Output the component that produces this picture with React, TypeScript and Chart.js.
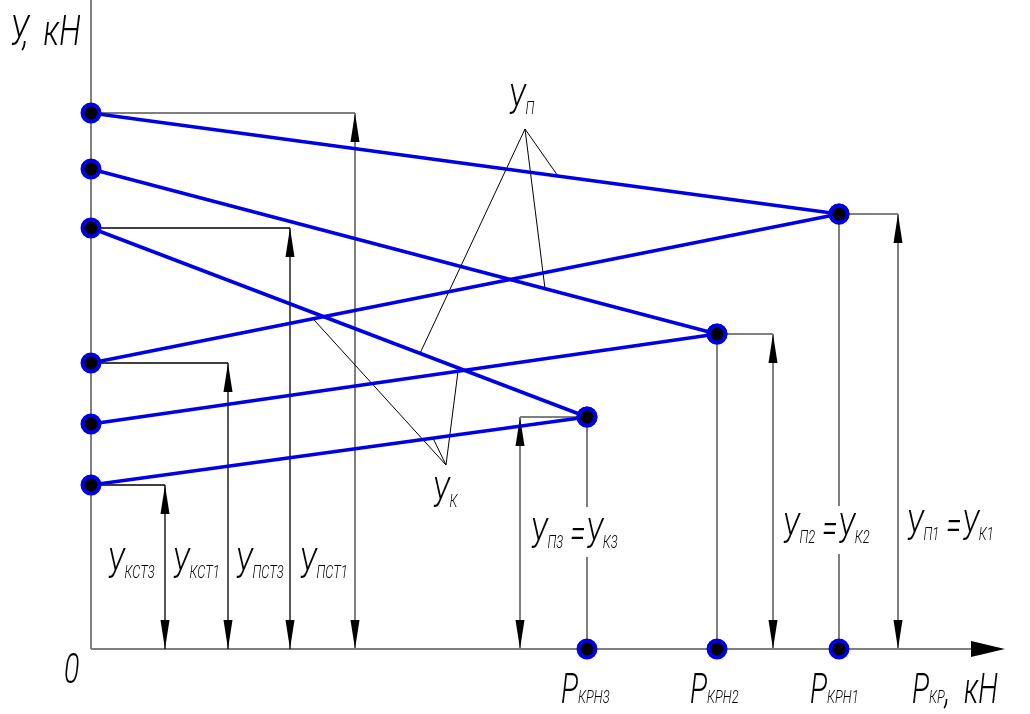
import React, { useEffect, useRef } from 'react';
import { Chart, registerables } from 'chart.js';

Chart.register(...registerables);

// ---- data (arbitrary units: kN) ----
const yPst = [53.6, 48.0, 42.1];   // Уп at P = 0 (Упст1, Упст2, Упст3)
const yKst = [28.6, 22.5, 16.4];   // Ук at P = 0 (Укст1, Укст2, Укст3)
const pKrn = [74.8, 62.6, 49.6];   // Pкрн1..3
const yCrit = [43.5, 31.5, 23.2];  // Уп = Ук at Pкрн1..3
const X_MAX = 91.4;
const Y_MAX = 64.9;

// dimension line positions (x in kN units) and the level they measure
const dimX = [7.4, 13.7, 19.9, 26.4, 42.9, 68.2, 80.7];
const dimY = [yKst[2], yKst[0], yPst[2], yPst[0], yCrit[2], yCrit[1], yCrit[0]];
const dimFrom = [0, 0, 0, 0, pKrn[2], pKrn[1], pKrn[0]];

// leader lines: apex and x-positions on the lines they point to
const upApex = { x: 43.4, y: 52.0 };
const upTargets = [46.7, 45.4, 32.9];
const ukApex = { x: 35.5, y: 18.4 };
const ukTargets = [22.2, 36.7, 34.2];

const BLUE = '#0000e6';
const GRAY = '#7f7f7f';
const FONT = "Roboto, 'DejaVu Sans', sans-serif";

const lineY = (start: number[], i: number, x: number) =>
  start[i] + ((yCrit[i] - start[i]) * x) / pKrn[i];

type Part = [string, boolean]; // text, isSub

function drawText(ctx: CanvasRenderingContext2D, parts: Part[], x: number, base: number, main = 42, sub = 19, sx = 0.68) {
  ctx.save();
  ctx.translate(x, base);
  ctx.scale(sx, 1);
  ctx.fillStyle = '#000';
  ctx.textBaseline = 'alphabetic';
  let cx = 0;
  for (const [t, isSub] of parts) {
    ctx.font = `italic 300 ${isSub ? sub : main}px ${FONT}`;
    ctx.fillText(t, cx, 0);
    cx += ctx.measureText(t).width;
  }
  ctx.restore();
}

function arrowHead(ctx: CanvasRenderingContext2D, x: number, y: number, dir: number) {
  // dir = -1 pointing up, +1 pointing down
  const len = 29, hw = 4.5;
  ctx.beginPath();
  ctx.moveTo(x, y);
  ctx.lineTo(x - hw, y - dir * len);
  ctx.lineTo(x + hw, y - dir * len);
  ctx.closePath();
  ctx.fill();
}

const drawingPlugin = {
  id: 'drawing',
  beforeDatasetsDraw(chart: any) {
    const ctx: CanvasRenderingContext2D = chart.ctx;
    const xs = chart.scales.x;
    const ys = chart.scales.y;
    const X = (v: number) => xs.getPixelForValue(v);
    const Y = (v: number) => ys.getPixelForValue(v);
    const x0 = X(0), y0 = Y(0);

    ctx.save();
    ctx.lineCap = 'butt';

    // axes
    ctx.strokeStyle = GRAY;
    ctx.lineWidth = 2;
    ctx.beginPath();
    ctx.moveTo(x0, y0);
    ctx.lineTo(x0, 0);
    ctx.moveTo(x0, y0);
    ctx.lineTo(X(X_MAX) - 30, y0);
    ctx.stroke();
    ctx.fillStyle = '#000';
    ctx.beginPath();
    ctx.moveTo(X(X_MAX), y0);
    ctx.lineTo(X(X_MAX) - 34, y0 - 8);
    ctx.lineTo(X(X_MAX) - 34, y0 + 8);
    ctx.closePath();
    ctx.fill();

    // drop lines from critical points
    ctx.strokeStyle = GRAY;
    ctx.lineWidth = 2;
    for (let i = 0; i < pKrn.length; i++) {
      ctx.beginPath();
      ctx.moveTo(X(pKrn[i]), Y(yCrit[i]));
      ctx.lineTo(X(pKrn[i]), y0);
      ctx.stroke();
    }

    // dimension lines
    for (let i = 0; i < dimX.length; i++) {
      const dx = X(dimX[i]);
      const dy = Y(dimY[i]);
      ctx.strokeStyle = i === 3 || i >= 4 ? GRAY : '#000';
      ctx.lineWidth = i === 3 || i >= 4 ? 2 : 1.3;
      ctx.beginPath();
      ctx.moveTo(X(dimFrom[i]), dy);
      ctx.lineTo(dx, dy);
      ctx.moveTo(dx, dy);
      ctx.lineTo(dx, y0);
      ctx.stroke();
      ctx.fillStyle = '#000';
      arrowHead(ctx, dx, dy, -1);
      arrowHead(ctx, dx, y0, 1);
    }

    // leader lines
    ctx.strokeStyle = '#000';
    ctx.lineWidth = 1;
    ctx.beginPath();
    for (let i = 0; i < 3; i++) {
      ctx.moveTo(X(upApex.x), Y(upApex.y));
      ctx.lineTo(X(upTargets[i]), Y(lineY(yPst, i, upTargets[i])));
      ctx.moveTo(X(ukApex.x), Y(ukApex.y));
      ctx.lineTo(X(ukTargets[i]), Y(lineY(yKst, i, ukTargets[i])));
    }
    ctx.stroke();

    // white backgrounds for labels that interrupt drop lines
    ctx.fillStyle = '#fff';
    ctx.fillRect(528, 507, 88, 50);
    ctx.fillRect(779, 506, 88, 48);

    // labels
    drawText(ctx, [['У,  кН', false]], 10, 45, 42, 19, 0.74);
    drawText(ctx, [['0', false]], 64, 683);
    drawText(ctx, [['У', false], ['КСТ3', true]], 107, 578);
    drawText(ctx, [['У', false], ['КСТ1', true]], 172, 578);
    drawText(ctx, [['У', false], ['ПСТ3', true]], 235, 578);
    drawText(ctx, [['У', false], ['ПСТ1', true]], 299, 578);
    drawText(ctx, [['У', false], ['П3', true], [' =', false], ['У', false], ['К3', true]], 530, 548);
    drawText(ctx, [['У', false], ['П2', true], [' =', false], ['У', false], ['К2', true]], 782, 543);
    drawText(ctx, [['У', false], ['П1', true], [' =', false], ['У', false], ['К1', true]], 906, 540);
    drawText(ctx, [['P', false], ['КРН3', true]], 561, 703);
    drawText(ctx, [['P', false], ['КРН2', true]], 690, 703);
    drawText(ctx, [['P', false], ['КРН1', true]], 810, 703);
    drawText(ctx, [['P', false], ['КР', true], [',  кН', false]], 912, 703);
    drawText(ctx, [['У', false], ['П', true]], 508, 114);
    drawText(ctx, [['У', false], ['К', true]], 432, 507);

    ctx.restore();
  },
};

export default function App() {
  const ref = useRef<HTMLCanvasElement>(null);

  useEffect(() => {
    document.body.style.margin = '0';
    const canvas = ref.current!;
    const lineStyle = {
      borderColor: BLUE,
      borderWidth: 3.5,
      showLine: true,
      pointRadius: 8.5,
      pointBorderWidth: 4,
      pointBackgroundColor: '#000',
      pointBorderColor: BLUE,
      clip: false as any,
    };
    const datasets: any[] = [];
    for (let i = 0; i < pKrn.length; i++) {
      datasets.push({
        label: `Уп${i + 1}`,
        data: [{ x: 0, y: yPst[i] }, { x: pKrn[i], y: yCrit[i] }],
        ...lineStyle,
      });
      datasets.push({
        label: `Ук${i + 1}`,
        data: [{ x: 0, y: yKst[i] }, { x: pKrn[i], y: yCrit[i] }],
        ...lineStyle,
      });
    }
    datasets.push({
      label: 'Pкрн',
      data: pKrn.map((p) => ({ x: p, y: 0 })),
      ...lineStyle,
      showLine: false,
    });

    const chart = new Chart(canvas, {
      type: 'scatter',
      data: { datasets },
      options: {
        animation: false,
        responsive: false,
        devicePixelRatio: 1,
        layout: { autoPadding: false, padding: { left: 91, right: 25, top: 0, bottom: 65 } },
        plugins: { legend: { display: false }, tooltip: { enabled: false } },
        scales: {
          x: { type: 'linear', min: 0, max: X_MAX, display: false },
          y: { type: 'linear', min: 0, max: Y_MAX, display: false },
        },
      },
      plugins: [drawingPlugin],
    });
    return () => chart.destroy();
  }, []);

  return (
    <div style={{ position: 'fixed', left: 0, top: 0, width: 1030, height: 714, background: '#fff' }}>
      <canvas ref={ref} width={1030} height={714} />
    </div>
  );
}
